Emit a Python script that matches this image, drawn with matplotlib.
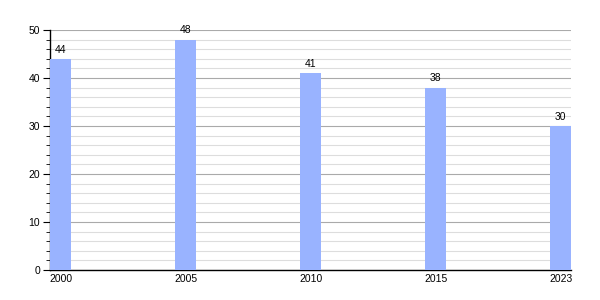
import matplotlib
matplotlib.use("Agg")
import matplotlib.pyplot as plt
from matplotlib.ticker import MultipleLocator

years = ["2000", "2005", "2010", "2015", "2023"]
values = [44, 48, 41, 38, 30]

plt.rcParams['font.family'] = ['Liberation Sans', 'DejaVu Sans']

fig = plt.figure(figsize=(6, 3), dpi=100)
ax = fig.add_axes([0.0833, 0.1, 0.869, 0.8])

pos = list(range(len(years)))
bars = ax.bar(pos, values, width=0.165, color='#99b3ff', zorder=3)
for b, v in zip(bars, values):
    ax.annotate(str(v), (b.get_x() + b.get_width() / 2, v), xytext=(0, 3),
                textcoords='offset points', ha='center', va='bottom', fontsize=7.5)

ax.set_xlim(-0.085, 4.085)
ax.set_ylim(0, 50)
ax.set_xticks(pos)
ax.set_xticklabels(years)
ax.yaxis.set_major_locator(MultipleLocator(10))
ax.yaxis.set_minor_locator(MultipleLocator(2))
ax.grid(which='major', axis='y', color='#aaaaaa', linewidth=0.8, zorder=1)
ax.grid(which='minor', axis='y', color='#dddddd', linewidth=0.8, zorder=0)
ax.tick_params(axis='x', length=0, labelsize=7.5, pad=3)
ax.tick_params(axis='y', which='major', length=5, labelsize=7.5, pad=2)
ax.tick_params(axis='y', which='minor', length=3)
for s in ['top', 'right']:
    ax.spines[s].set_visible(False)
ax.spines['left'].set_linewidth(1)
ax.spines['bottom'].set_linewidth(1)

plt.savefig('out.png')
